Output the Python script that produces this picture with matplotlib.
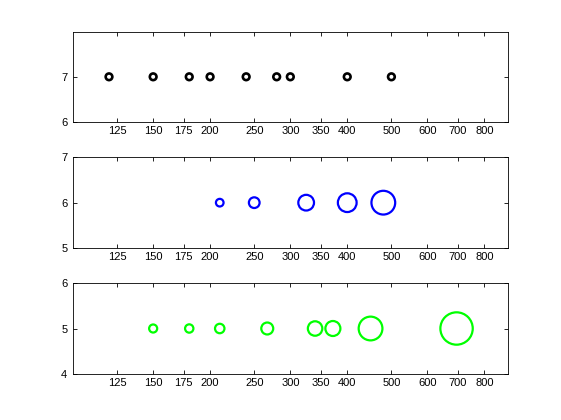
import matplotlib
matplotlib.use("Agg")
import matplotlib.pyplot as plt

plt.rcParams["font.family"] = ["Liberation Sans", "DejaVu Sans"]
plt.rcParams["font.size"] = 8

# donnees des trois panneaux
x_top = [120, 150, 180, 200, 240, 280, 300, 400, 500]
y_top = 7
size_top = [4.8] * len(x_top)

x_mid = [210, 250, 325, 400, 480]
y_mid = 6
size_mid = [5.5, 7.7, 11.3, 13.5, 17.1]

x_bot = [150, 180, 210, 267, 340, 372, 450, 695]
y_bot = 5
size_bot = [5.8, 6.0, 6.8, 8.6, 10.4, 10.8, 17.1, 23.3]

xticks = [125, 150, 175, 200, 250, 300, 350, 400, 500, 600, 700, 800]
yticks_top = [6, 7]
yticks_mid = [5, 6, 7]
yticks_bot = [4, 5, 6]

# positions type subplot(3,1,k) de MATLAB
panneaux = [
    (x_top, y_top, size_top, "black", 1.9, (6, 8), yticks_top, 0.7093),
    (x_mid, y_mid, size_mid, "#0000ff", 1.6, (5, 7), yticks_mid, 0.4096),
    (x_bot, y_bot, size_bot, "#00ff00", 1.6, (4, 6), yticks_bot, 0.11),
]

fig = plt.figure(figsize=(5.61, 4.2), dpi=100)

for xs, yv, sizes, couleur, lw, ylim, yt, bas in panneaux:
    ax = fig.add_axes([0.13, bas, 0.775, 0.2157])
    ax.scatter(xs, [yv] * len(xs), s=[m ** 2 for m in sizes],
               facecolors="none", edgecolors=couleur, linewidths=lw)
    ax.set_xscale("log")
    ax.set_xlim(100, 900)
    ax.set_ylim(*ylim)
    ax.set_xticks(xticks)
    ax.set_xticklabels([str(t) for t in xticks])
    ax.xaxis.set_minor_locator(matplotlib.ticker.NullLocator())
    ax.set_yticks(yt)
    ax.tick_params(direction="in", top=True, right=True, length=3.1,
                   width=0.6, pad=3)
    ax.tick_params(axis="y", pad=4)
    for sp in ax.spines.values():
        sp.set_linewidth(0.6)

fig.savefig("out.png", dpi=100)
